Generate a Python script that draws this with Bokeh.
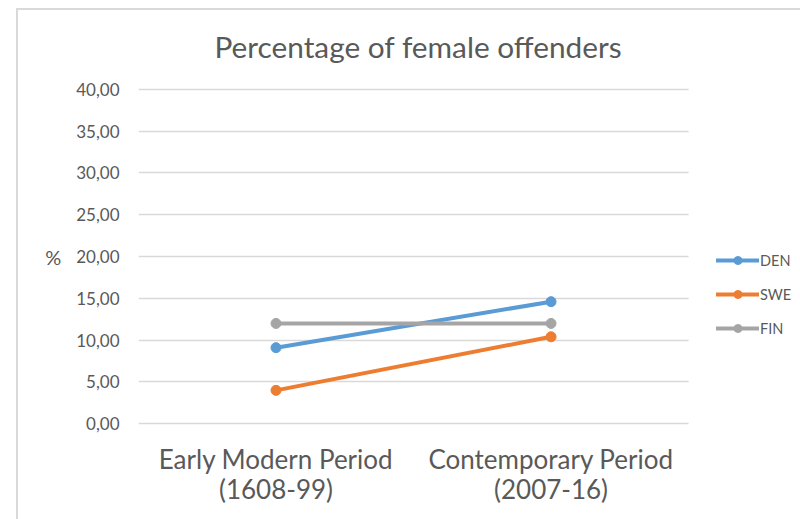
from bokeh.plotting import figure
from bokeh.models import Range1d, Legend, LegendItem, ColumnDataSource, BoxAnnotation, FixedTicker
from bokeh.embed import file_html
from bokeh.resources import INLINE

periods = ["Early Modern Period\n(1608-99)", "Contemporary Period\n(2007-16)"]
series_names = ["DEN", "SWE", "FIN"]
den = [9.1, 14.6]
swe = [4.0, 10.4]
fin = [12.0, 12.0]
colors = ["#5B9BD5", "#ED7D31", "#A5A5A5"]
y_ticks = [0, 5, 10, 15, 20, 25, 30, 35, 40]
y_tick_labels = ["0,00", "5,00", "10,00", "15,00", "20,00", "25,00", "30,00", "35,00", "40,00"]

FONT = "Lato"
TXT = "#595959"

xpos = list(range(len(periods)))

p = figure(width=800, height=519, x_range=Range1d(-0.5, 1.907), y_range=Range1d(-0.2, 40.2),
           output_backend="svg", toolbar_location=None,
           min_border_left=138, min_border_right=0, min_border_top=87, min_border_bottom=94,
           title="Percentage of female offenders")
p.styles = {"background": "linear-gradient(#d9d9d9,#d9d9d9) 16px 8px / 2px 100% no-repeat, "
                          "linear-gradient(#d9d9d9,#d9d9d9) 16px 8px / 100% 2px no-repeat"}
p.outline_line_color = None
p.background_fill_color = "white"
p.border_fill_alpha = 0

p.title.align = "left"
p.title.offset = 76
p.title.standoff = 47
p.title.text_font = FONT
p.title.text_font_size = "29.8px"
p.title.text_font_style = "normal"
p.title.text_color = TXT

p.xgrid.grid_line_color = None
p.ygrid.grid_line_color = "#D9D9D9"
p.ygrid.grid_line_width = 1.3
p.yaxis.ticker = y_ticks
p.yaxis.major_label_overrides = {t: lab for t, lab in zip(y_ticks, y_tick_labels)}
p.xaxis.ticker = FixedTicker(ticks=xpos)
p.xaxis.major_label_overrides = {i: lab for i, lab in zip(xpos, periods)}

# hide gridlines in the legend area (right of the last category slot)
p.add_layout(BoxAnnotation(left=xpos[-1] + 0.5, fill_color="white", fill_alpha=1, line_color=None))

renderers = []
for name, vals, c in zip(series_names, [den, swe, fin], colors):
    src = ColumnDataSource(dict(x=xpos, y=vals))
    l = p.line("x", "y", source=src, line_color=c, line_width=4, line_cap="round")
    s = p.scatter("x", "y", source=src, size=10, fill_color=c, line_color=c)
    renderers.append((name, [l, s]))

for ax in [p.xaxis[0], p.yaxis[0]]:
    ax.axis_line_color = None
    ax.major_tick_line_color = None
    ax.minor_tick_line_color = None
    ax.major_label_text_font = FONT
    ax.major_label_text_color = TXT

p.yaxis.major_label_text_font_size = "17px"
p.yaxis.major_label_standoff = 13
p.yaxis.axis_label = "%"
p.yaxis.axis_label_orientation = "horizontal"
p.yaxis.axis_label_text_font = FONT
p.yaxis.axis_label_text_font_size = "20px"
p.yaxis.axis_label_text_font_style = "normal"
p.yaxis.axis_label_text_color = TXT
p.yaxis.axis_label_standoff = 12

p.xaxis.major_label_text_font_size = "26px"
p.xaxis.major_label_standoff = 11
p.xaxis.major_label_text_line_height = 0.94

legend = Legend(items=[LegendItem(label=n, renderers=r) for n, r in renderers],
                location=(578, 87), orientation="vertical")
legend.border_line_color = None
legend.background_fill_alpha = 0
legend.padding = 0
legend.margin = 0
legend.glyph_width = 43
legend.glyph_height = 20
legend.label_height = 20
legend.spacing = 14
legend.label_standoff = 1
legend.label_text_font = FONT
legend.label_text_font_size = "14.5px"
legend.label_text_color = TXT
p.add_layout(legend)

open("out.html", "w").write(file_html(p, INLINE))
